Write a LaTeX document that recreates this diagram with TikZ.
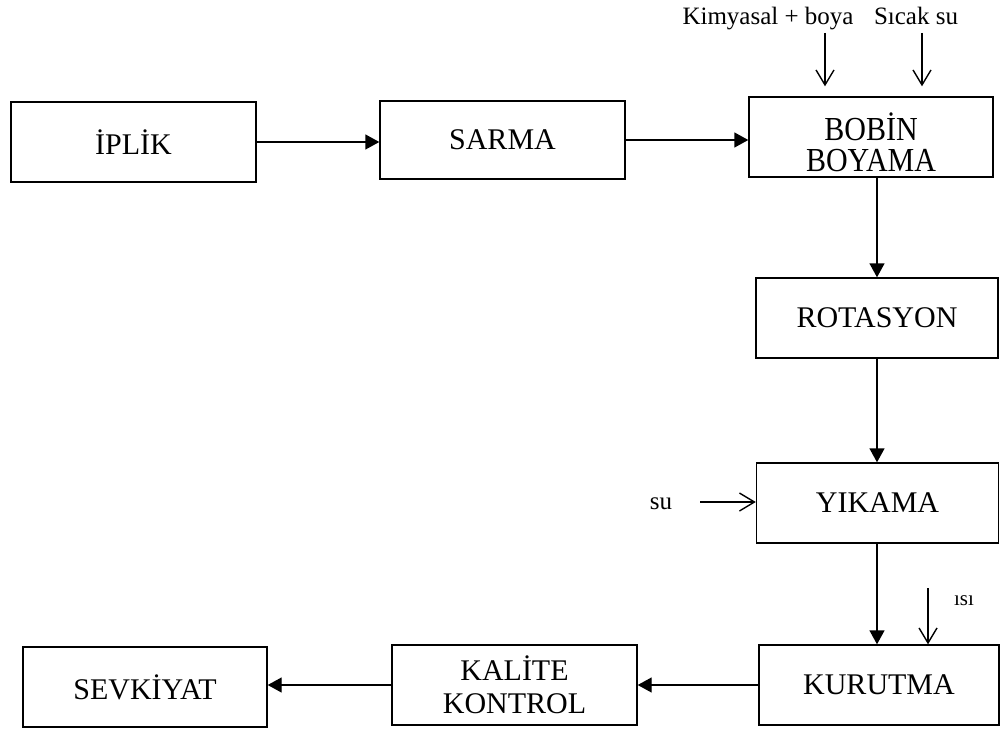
\documentclass[tikz,border=0pt]{standalone}
\usepackage{graphicx}
\usepackage{fontspec}
\setmainfont{Liberation Serif}
\usetikzlibrary{arrows.meta}
\newcommand{\tallline}[1]{\scalebox{1}[1.12]{#1}}
\begin{document}
\begin{tikzpicture}[x=1pt,y=-1pt,
  stepbox/.style={draw, line width=1.4pt, inner sep=0pt, align=center,
    minimum width=244pt, minimum height=80pt,
    font=\fontsize{30}{33}\selectfont},
  boxtext/.style={inner sep=0pt, align=center, font=\fontsize{30}{31}\selectfont},
  flow/.style={line width=1.4pt, -{Triangle[length=14pt,width=15pt]}},
  feed/.style={line width=1.4pt, -{Straight Barb[length=15pt,width=18pt,line width=1.4pt]}},
  lbl/.style={inner sep=0pt, anchor=base, font=\fontsize{25}{28}\selectfont}]
\useasboundingbox (0,0) rectangle (1000,730);

% process steps
\node[stepbox, minimum width=245pt] (iplik) at (133.5,142) {İPLİK};
\node[stepbox, minimum width=245pt, minimum height=78pt] (sarma) at (502.5,140) {SARMA};
\node[stepbox] (bobin) at (871,137) {};
\node[boxtext] (bobintext) at (871,142) {\tallline{BOBİN}\\\tallline{BOYAMA}};
\node[stepbox, minimum width=242pt] (rotasyon) at (877,318) {ROTASYON};
\node[stepbox, minimum width=242pt] (yikama) at (877.5,503) {YIKAMA};
\node[stepbox, minimum width=240pt] (kurutma) at (879,685) {KURUTMA};
\node[stepbox, minimum width=245pt] (kalite) at (514.5,685) {KALİTE\\KONTROL};
\node[stepbox] (sevkiyat) at (145,687) {SEVKİYAT};

% inputs
\node[lbl] (kimya) at (768,25) {Kimyasal + boya};
\node[lbl] (sicak) at (916,25) {Sıcak su};
\node[lbl] (su) at (661,509) {su};
\node[lbl, font=\fontsize{21}{24}\selectfont] (isi) at (964,605) {ısı};

\coordinate (kin) at (825,33);
\coordinate (sin) at (922,33);
\coordinate (suin) at (700,502);
\coordinate (isiin) at (928,588);

% main flow
\draw[flow] (iplik.east) -- (iplik.east -| sarma.west);
\draw[flow] (sarma.east) -- (sarma.east -| bobin.west);
\draw[flow] (bobin.south -| rotasyon.north) -- (rotasyon.north);
\draw[flow] (rotasyon.south) -- (yikama.north -| rotasyon.south);
\draw[flow] (yikama.south -| rotasyon.south) -- (kurutma.north -| rotasyon.south);
\draw[flow] (kurutma.west) -- (kalite.east);
\draw[flow] (kalite.west) -- (kalite.west -| sevkiyat.east);

% feeds
\draw[feed, shorten >=10pt] (kin) -- (kin |- bobin.north);
\draw[feed, shorten >=10pt] (sin) -- (sin |- bobin.north);
\draw[feed] (suin) -- (suin -| yikama.west);
\draw[feed] (isiin) -- (isiin |- kurutma.north);
\end{tikzpicture}
\end{document}
